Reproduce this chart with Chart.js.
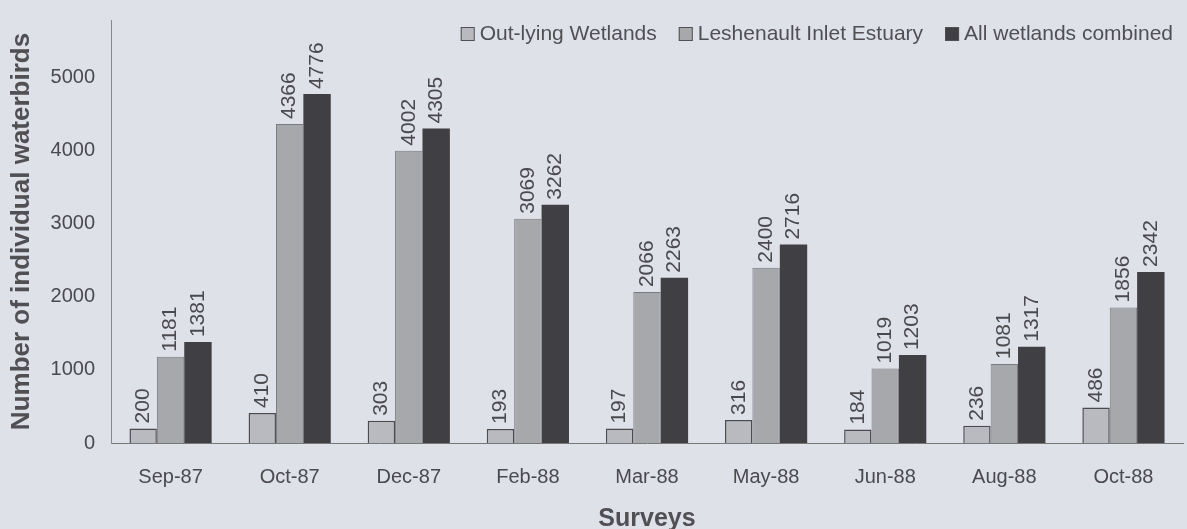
<!DOCTYPE html>
<html>
<head>
<meta charset="utf-8">
<script src="https://cdn.jsdelivr.net/npm/chart.js@4"></script>
<style>
  html, body { margin: 0; padding: 0; background: #dfe1e9; }
  #wrap { width: 1187px; height: 529px; }
</style>
</head>
<body>
<div id="wrap"><canvas id="birds" width="1187" height="529"></canvas></div>
<script>
const surveys = ['Sep-87', 'Oct-87', 'Dec-87', 'Feb-88', 'Mar-88', 'May-88', 'Jun-88', 'Aug-88', 'Oct-88'];
const outlying = [200, 410, 303, 193, 197, 316, 184, 236, 486];
const leschenault = [1181, 4366, 4002, 3069, 2066, 2400, 1019, 1081, 1856];
const combined = [1381, 4776, 4305, 3262, 2263, 2716, 1203, 1317, 2342];
const yTicks = [0, 1000, 2000, 3000, 4000, 5000];

const FONT = '"Liberation Sans", Arial, sans-serif';

// rotated value labels above each bar
const barLabels = {
    id: 'barLabels',
    afterDatasetsDraw(chart) {
        const ctx = chart.ctx;
        ctx.save();
        ctx.font = '21px ' + FONT;
        ctx.fillStyle = '#4a4a4e';
        ctx.textAlign = 'left';
        ctx.textBaseline = 'middle';
        chart.data.datasets.forEach((ds, i) => {
            chart.getDatasetMeta(i).data.forEach((bar, j) => {
                ctx.save();
                ctx.translate(bar.x, bar.y - 5);
                ctx.rotate(-Math.PI / 2);
                ctx.fillText(String(ds.data[j]), 0, 0);
                ctx.restore();
            });
        });
        ctx.restore();
    }
};

// legend drawn inside the plot area, top right
const insideLegend = {
    id: 'insideLegend',
    afterDraw(chart) {
        const ctx = chart.ctx;
        ctx.save();
        ctx.font = '21px ' + FONT;
        ctx.textBaseline = 'middle';
        let x = 1173;
        const y = 34;
        const items = chart.data.datasets.map(d => d).reverse();
        items.forEach(ds => {
            const w = ctx.measureText(ds.label).width;
            x -= w;
            ctx.fillStyle = '#505054';
            ctx.fillText(ds.label, x, y);
            x -= 19;
            ctx.fillStyle = ds.backgroundColor;
            ctx.fillRect(x, y - 7, 14, 14);
            ctx.strokeStyle = '#505054';
            ctx.lineWidth = 1;
            ctx.strokeRect(x + 0.5, y - 6.5, 13, 13);
            x -= 22;
        });
        ctx.restore();
    }
};

new Chart(document.getElementById('birds'), {
    type: 'bar',
    data: {
        labels: surveys,
        datasets: [
            { label: 'Out-lying Wetlands', data: outlying, backgroundColor: '#b9babf', borderColor: '#4c4c50', borderWidth: 1.5 },
            { label: 'Leshenault Inlet Estuary', data: leschenault, backgroundColor: '#a7a8ac', borderColor: '#7a7a80', borderWidth: 1 },
            { label: 'All wetlands combined', data: combined, backgroundColor: '#404044', borderColor: '#404044', borderWidth: 0 }
        ]
    },
    options: {
        responsive: false,
        animation: false,
        layout: { padding: { top: 0, right: 4, left: 0, bottom: 0 } },
        plugins: { legend: { display: false }, tooltip: { enabled: false } },
        datasets: { bar: { categoryPercentage: 0.69, barPercentage: 1.0 } },
        scales: {
            x: {
                afterFit(scale) { scale.height = 86; },
                grid: { display: false },
                border: { color: '#777', dash: [2, 2] },
                ticks: { color: '#4a4a4e', font: { size: 20, family: FONT }, padding: 14 },
                title: { display: true, text: 'Surveys', color: '#505054', font: { size: 25, weight: 'bold', family: FONT, lineHeight: 0.8 }, padding: { top: 0, bottom: 0 } }
            },
            y: {
                min: 0, max: 5790,
                afterFit(scale) { scale.width = 111; },
                afterBuildTicks(scale) { scale.ticks = yTicks.map(v => ({ value: v })); },
                grid: { display: false },
                border: { color: '#888', dash: [2, 2] },
                ticks: { color: '#4a4a4e', font: { size: 20, family: FONT }, padding: 8, callback: v => String(v) },
                title: { display: true, text: 'Number of individual waterbirds', color: '#505054', font: { size: 26, weight: 'bold', family: FONT, lineHeight: 1 }, padding: { top: 9, bottom: 0 } }
            }
        }
    },
    plugins: [barLabels, insideLegend]
});
</script>
</body>
</html>
